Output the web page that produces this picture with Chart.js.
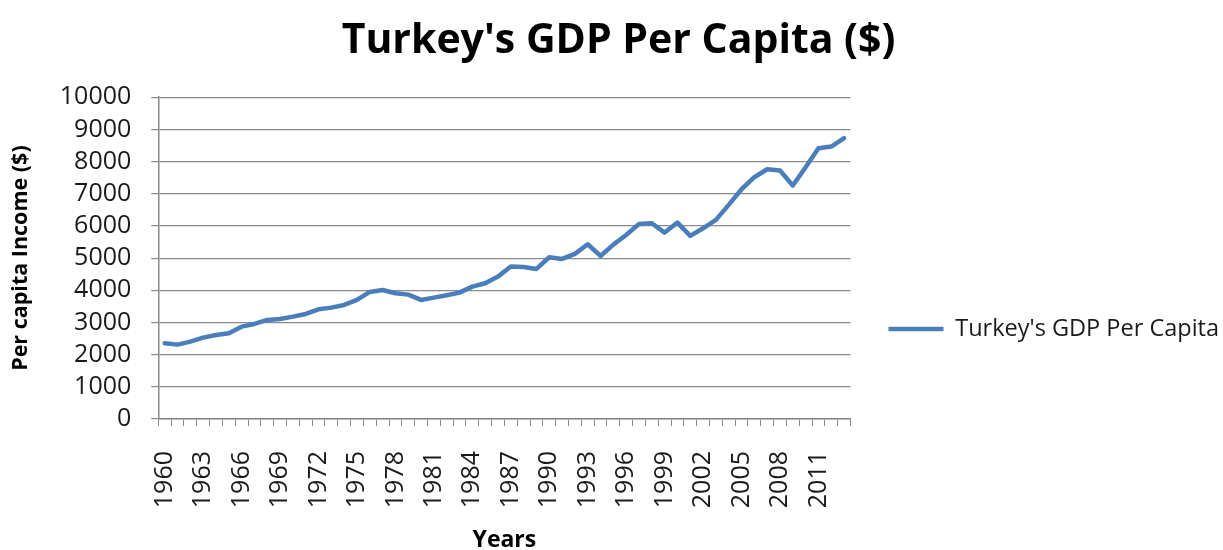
<!DOCTYPE html>
<html>
<head>
<meta charset="utf-8">
<script src="https://cdn.jsdelivr.net/npm/chart.js@4.4.1/dist/chart.umd.min.js"></script>
<style>
  html, body { margin: 0; padding: 0; background: #ffffff; }
  #wrap { width: 1223px; height: 550px; }
</style>
</head>
<body>
<div id="wrap"><canvas id="c" width="1223" height="550"></canvas></div>
<script>
const years = [
  '1960','1961','1962','1963','1964','1965','1966','1967','1968','1969',
  '1970','1971','1972','1973','1974','1975','1976','1977','1978','1979',
  '1980','1981','1982','1983','1984','1985','1986','1987','1988','1989',
  '1990','1991','1992','1993','1994','1995','1996','1997','1998','1999',
  '2000','2001','2002','2003','2004','2005','2006','2007','2008','2009',
  '2010','2011','2012','2013'
];
const gdpPerCapita = [
  2352, 2311, 2404, 2528, 2611, 2663, 2870, 2953, 3078, 3109,
  3181, 3264, 3409, 3461, 3544, 3699, 3948, 4010, 3907, 3865,
  3700, 3772, 3845, 3927, 4114, 4218, 4425, 4736, 4726, 4663,
  5026, 4974, 5130, 5430, 5067, 5420, 5720, 6062, 6083, 5793,
  6104, 5689, 5927, 6187, 6653, 7140, 7513, 7762, 7720, 7254,
  7824, 8415, 8466, 8725
];
const seriesName = "Turkey's GDP Per Capita";
const chartTitle = "Turkey's GDP Per Capita ($)";
const yAxisTitle = 'Per capita Income ($)';
const xAxisTitle = 'Years';
const yMin = 0, yMax = 10000, yStep = 1000;
const labelEvery = 3;

const FONT = "'Open Sans', 'Liberation Sans', sans-serif";
const GRID = '#8a8a8a';
const TEXT = '#1a1a1a';
const BLUE = '#4a7ebb';

// nudges the right-hand legend down so it sits where the reference has it
const legendNudge = {
  id: 'legendNudge',
  afterLayout(chart) {
    const lg = chart.legend;
    if (lg) { lg.top += 52; lg.bottom += 52; }
  }
};

new Chart(document.getElementById('c'), {
  type: 'line',
  data: {
    labels: years,
    datasets: [{
      label: seriesName,
      data: gdpPerCapita,
      borderColor: BLUE,
      backgroundColor: BLUE,
      borderWidth: 4.5,
      pointRadius: 0,
      pointHoverRadius: 0,
      tension: 0,
      borderJoinStyle: 'round',
      borderCapStyle: 'round',
      fill: false
    }]
  },
  plugins: [legendNudge],
  options: {
    responsive: false,
    animation: false,
    devicePixelRatio: 1,
    layout: { padding: { top: 4, right: -6, bottom: 0, left: 8 } },
    plugins: {
      title: {
        display: true,
        text: chartTitle,
        color: '#000',
        font: { family: FONT, size: 41, weight: 'bold' },
        padding: { top: 13, bottom: 31 }
      },
      legend: {
        display: true,
        position: 'right',
        maxWidth: 400,
        labels: {
          color: TEXT,
          font: { family: FONT, size: 23.5 },
          usePointStyle: true,
          pointStyle: 'line',
          pointStyleWidth: 55,
          boxHeight: 4,
          padding: 38
        }
      },
      tooltip: { enabled: false }
    },
    scales: {
      x: {
        type: 'category',
        offset: true,
        afterFit(scale) { scale.height = 131; },
        grid: {
          offset: true,
          drawOnChartArea: false,
          drawTicks: true,
          tickLength: 7,
          color: GRID,
          lineWidth: 1
        },
        border: { display: true, color: GRID, width: 1.5 },
        ticks: {
          autoSkip: false,
          minRotation: 90,
          maxRotation: 90,
          padding: 25,
          color: TEXT,
          font: { family: FONT, size: 25 },
          callback: function(val, idx) {
            return idx % labelEvery === 0 ? this.getLabelForValue(val) : '';
          }
        },
        title: {
          display: true,
          text: xAxisTitle,
          color: '#000',
          font: { family: FONT, size: 23, weight: 'bold' },
          padding: { top: 4, bottom: -4 }
        }
      },
      y: {
        min: yMin,
        max: yMax,
        grid: {
          color: GRID,
          lineWidth: 1.2,
          drawTicks: true,
          tickLength: 7
        },
        border: { display: true, color: GRID, width: 1.5 },
        ticks: {
          stepSize: yStep,
          autoSkip: false,
          padding: 20,
          color: TEXT,
          font: { family: FONT, size: 25 },
          callback: function(v) { return String(v); }
        },
        title: {
          display: true,
          text: yAxisTitle,
          color: '#000',
          font: { family: FONT, size: 21.5, weight: 'bold' },
          padding: { top: 0, bottom: 6 }
        }
      }
    }
  }
});
</script>
</body>
</html>
